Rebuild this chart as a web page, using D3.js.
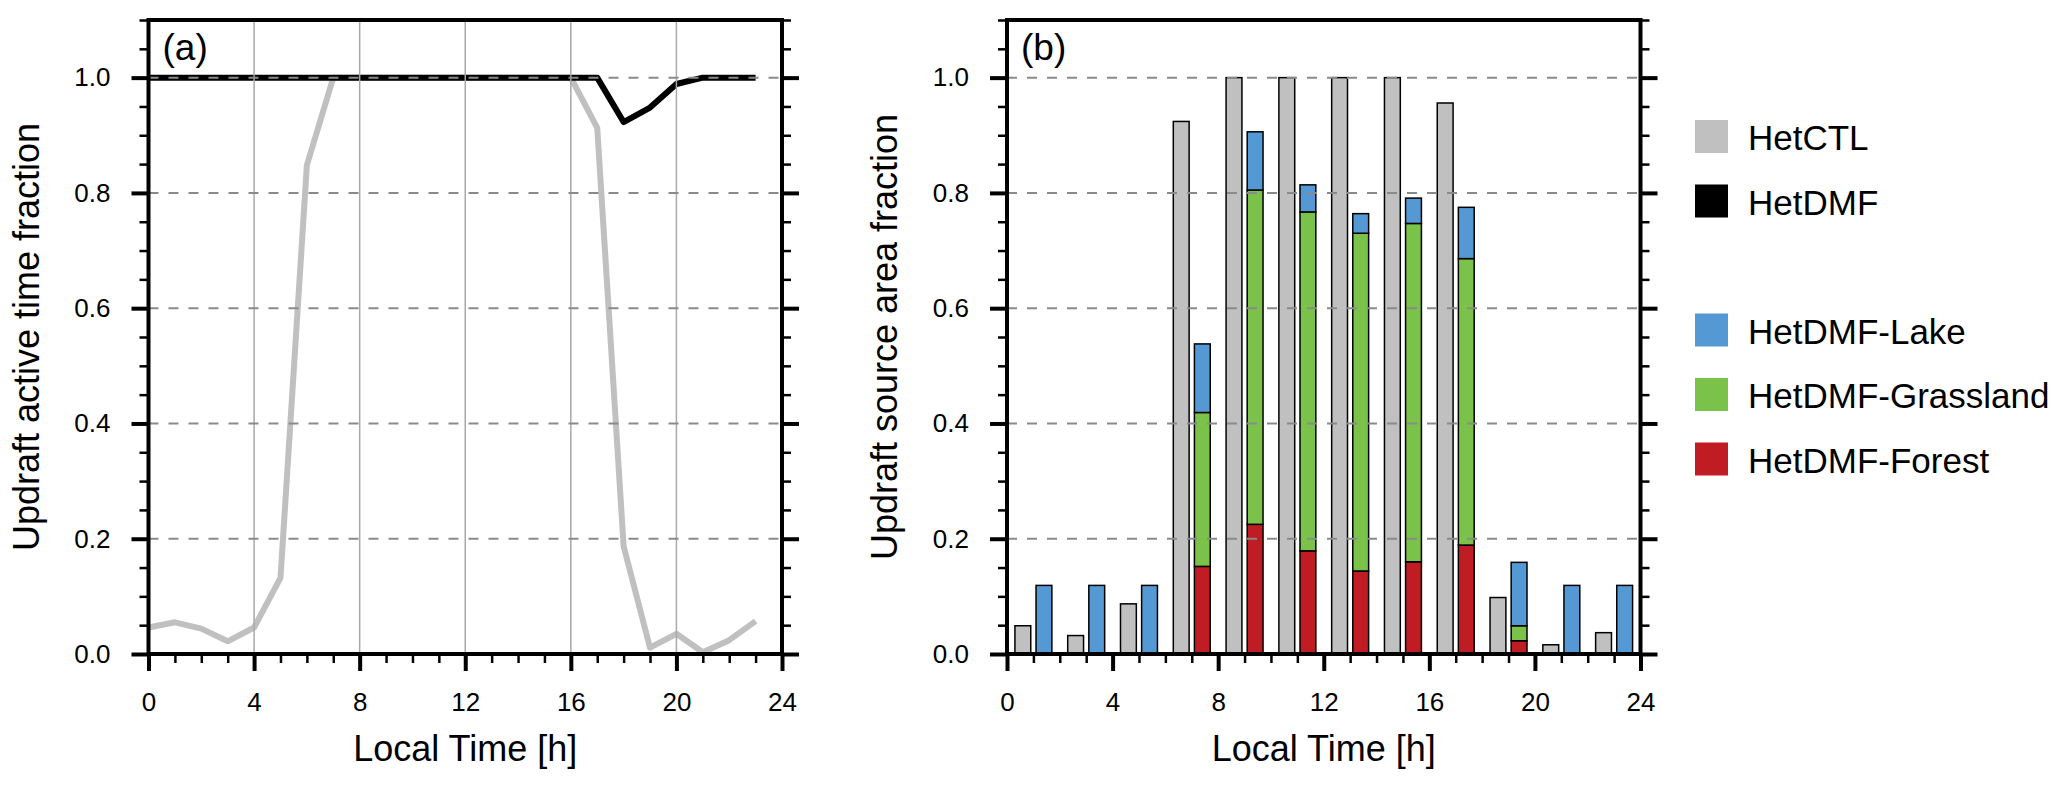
<!DOCTYPE html>
<html><head><meta charset="utf-8">
<script src="https://cdn.jsdelivr.net/npm/d3@7"></script>
<style>
body{margin:0;background:#fff}
text{font-family:"Liberation Sans",Arial,Helvetica,sans-serif;fill:#000}
</style>
</head><body><svg id="c" width="2067" height="787"></svg>
<script>
// ---------- DATA ----------
const hours = [0,1,2,3,4,5,6,7,8,9,10,11,12,13,14,15,16,17,18,19,20,21,22,23];
const hetCTLActive = [0.046,0.055,0.044,0.022,0.046,0.132,0.848,1.0,1.0,1.0,1.0,1.0,1.0,1.0,1.0,1.0,1.0,0.913,0.187,0.011,0.035,0.003,0.024,0.057];
const hetDMFActive = [1.0,1.0,1.0,1.0,1.0,1.0,1.0,1.0,1.0,1.0,1.0,1.0,1.0,1.0,1.0,1.0,1.0,1.0,0.923,0.948,0.989,1.0,1.0,1.0];

const periods = [1,3,5,7,9,11,13,15,17,19,21,23];
const hetCTLArea = [0.049,0.032,0.087,0.924,1.0,1.0,1.0,1.0,0.956,0.098,0.016,0.037];
const dmfForest  = [0,0,0,0.152,0.225,0.179,0.144,0.160,0.189,0.023,0,0];
const dmfGrass   = [0,0,0,0.267,0.580,0.588,0.586,0.587,0.497,0.026,0,0];
const dmfLake    = [0.119,0.119,0.119,0.119,0.101,0.047,0.034,0.044,0.089,0.110,0.119,0.119];

const xMajor = [0,4,8,12,16,20,24];
const xMinor = [1,2,3,5,6,7,9,10,11,13,14,15,17,18,19,21,22,23];
const yMajor = [0,0.2,0.4,0.6,0.8,1.0];
const yMinor = [0.05,0.1,0.15,0.25,0.3,0.35,0.45,0.5,0.55,0.65,0.7,0.75,0.85,0.9,0.95,1.05,1.1];
const vGrid = [4,8,12,16,20];
const hGrid = [0.2,0.4,0.6,0.8,1.0];

const legendItems = [
  {name:"HetCTL", color:"#c0c0c0"},
  {name:"HetDMF", color:"#000000"},
  null,
  {name:"HetDMF-Lake", color:"#5599d4"},
  {name:"HetDMF-Grassland", color:"#7bc24b"},
  {name:"HetDMF-Forest", color:"#c01c24"}
];

// ---------- LAYOUT ----------
const svg = d3.select("#c");
const yTop = 20, yBot = 654, W = 633.5;
const panels = [{x0:148.5, label:"(a)", ytitle:"Updraft active time fraction"},
                {x0:1007, label:"(b)", ytitle:"Updraft source area fraction"}];
const y = d3.scaleLinear().domain([0,1.1]).range([yBot, yTop]);

function makeX(p){ return d3.scaleLinear().domain([0,24]).range([p.x0, p.x0+W]); }

function styleAxis(g, w){
  g.select(".domain").remove();
  g.selectAll(".tick line").attr("stroke","#000").attr("stroke-width",w);
  g.selectAll(".tick text").attr("font-size",26).attr("fill","#000")
    .attr("font-family","'Liberation Sans',Arial,Helvetica,sans-serif");
}

function drawFrame(p, x){
  const g = svg.append("g");
  g.append("g").attr("transform",`translate(0,${yBot})`)
    .call(d3.axisBottom(x).tickValues(xMinor).tickSize(9).tickFormat(""))
    .call(a=>styleAxis(a,2.5));
  g.append("g").attr("transform",`translate(0,${yBot})`)
    .call(d3.axisBottom(x).tickValues(xMajor).tickSize(17).tickPadding(22).tickFormat(d3.format("d")))
    .call(a=>styleAxis(a,4));
  g.append("g").attr("transform",`translate(${p.x0},0)`)
    .call(d3.axisLeft(y).tickValues(yMinor).tickSize(9).tickFormat(""))
    .call(a=>styleAxis(a,2.5));
  g.append("g").attr("transform",`translate(${p.x0},0)`)
    .call(d3.axisLeft(y).tickValues(yMajor).tickSize(17).tickPadding(21).tickFormat(d3.format(".1f")))
    .call(a=>styleAxis(a,4));
  g.append("g").attr("transform",`translate(${p.x0+W},0)`)
    .call(d3.axisRight(y).tickValues(yMinor).tickSize(9).tickFormat(""))
    .call(a=>styleAxis(a,2.5));
  g.append("g").attr("transform",`translate(${p.x0+W},0)`)
    .call(d3.axisRight(y).tickValues(yMajor).tickSize(17).tickFormat(""))
    .call(a=>styleAxis(a,4));
  g.append("rect").attr("x",p.x0).attr("y",yTop).attr("width",W).attr("height",yBot-yTop)
    .attr("fill","none").attr("stroke","#000").attr("stroke-width",4);
  svg.append("text").attr("x",p.x0+W/2).attr("y",761).attr("text-anchor","middle")
    .attr("font-size",36).text("Local Time [h]");
  svg.append("text").attr("transform",`translate(${p.x0-110},${(yTop+yBot)/2}) rotate(-90)`)
    .attr("text-anchor","middle").attr("font-size",36).text(p.ytitle);
  svg.append("text").attr("x",p.x0+14).attr("y",60).attr("font-size",37).text(p.label);
}

function drawHGrid(p){
  svg.append("g").selectAll("line").data(hGrid).join("line")
    .attr("x1",p.x0).attr("x2",p.x0+W).attr("y1",d=>y(d)).attr("y2",d=>y(d))
    .attr("stroke","#8a8a8a").attr("stroke-width",2).attr("stroke-dasharray","10,10");
}

// ---------- PANEL A ----------
{
  const p = panels[0], x = makeX(p);
  const line = d3.line().x((d,i)=>x(hours[i])).y(d=>y(d));
  svg.append("path").datum(hetCTLActive).attr("d",line).attr("fill","none")
    .attr("stroke","#c0c0c0").attr("stroke-width",6).attr("stroke-linejoin","round");
  svg.append("path").datum(hetDMFActive).attr("d",line).attr("fill","none")
    .attr("stroke","#000").attr("stroke-width",6).attr("stroke-linejoin","round");
  svg.append("g").selectAll("line").data(vGrid).join("line")
    .attr("x1",d=>x(d)).attr("x2",d=>x(d)).attr("y1",yTop).attr("y2",yBot)
    .attr("stroke","#a8a8a8").attr("stroke-width",1.5);
  drawHGrid(p);
  drawFrame(p, x);
}

// ---------- PANEL B ----------
{
  const p = panels[1], x = makeX(p);
  const bw = 0.6, off = 0.4;
  svg.append("g").selectAll("rect").data(hetCTLArea).join("rect")
    .attr("x",(d,i)=>x(periods[i]-off-bw/2)).attr("width",x(bw)-x(0))
    .attr("y",d=>y(d)).attr("height",d=>y(0)-y(d))
    .attr("fill","#c0c0c0").attr("stroke","#000").attr("stroke-width",1.5);
  const rows = periods.map((c,i)=>({c, forest:dmfForest[i], grass:dmfGrass[i], lake:dmfLake[i]}));
  const keys = ["forest","grass","lake"];
  const colors = {forest:"#c01c24", grass:"#7bc24b", lake:"#5599d4"};
  const stacked = d3.stack().keys(keys)(rows);
  stacked.forEach(layer=>{
    svg.append("g").selectAll("rect").data(layer.filter(d=>d[1]-d[0]>0)).join("rect")
      .attr("x",d=>x(d.data.c+off-bw/2)).attr("width",x(bw)-x(0))
      .attr("y",d=>y(d[1])).attr("height",d=>y(d[0])-y(d[1]))
      .attr("fill",colors[layer.key]).attr("stroke","#000").attr("stroke-width",1.5);
  });
  drawHGrid(p);
  drawFrame(p, x);
}

// ---------- LEGEND ----------
{
  const lx = 1695, ly0 = 136.5, dy = 64.5;
  legendItems.forEach((it,i)=>{
    if(!it) return;
    const cy = ly0 + i*dy;
    svg.append("rect").attr("x",lx).attr("y",cy-16.5).attr("width",33).attr("height",33).attr("fill",it.color);
    svg.append("text").attr("x",lx+53).attr("y",cy+13.5).attr("font-size",35).text(it.name);
  });
}
</script>
</body></html>
